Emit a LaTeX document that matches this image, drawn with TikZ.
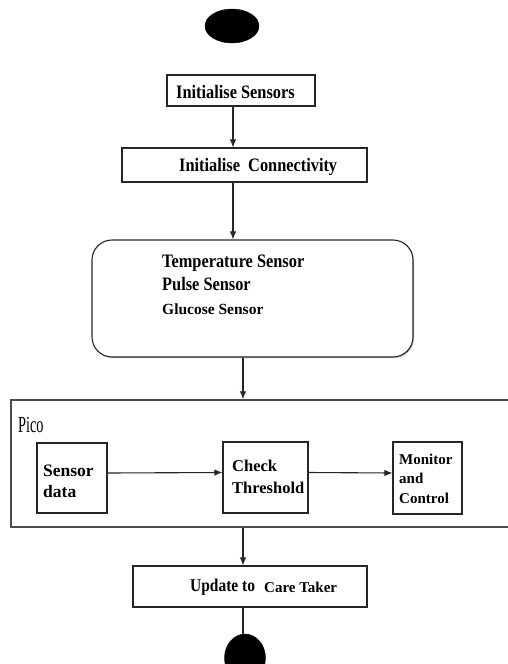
\documentclass[tikz,border=0pt]{standalone}
\usepackage{fontspec}
\setmainfont{Liberation Serif}
\newfontfamily\condfont[FakeStretch=0.86]{Liberation Serif}
\newfontfamily\narrowfont[FakeStretch=0.62]{Liberation Serif}
\usetikzlibrary{arrows.meta,shapes.geometric,shadows}

\tikzset{
  box/.style={draw=black!85, line width=1.1pt, fill=white, rectangle, inner sep=0pt,
              drop shadow={shadow xshift=1pt, shadow yshift=-1pt, opacity=0.45, fill=black!60}},
  roundbox/.style={box, rounded corners=20pt},
  frame/.style={draw=black!70, line width=1.5pt, fill=white, rectangle, inner sep=0pt,
              drop shadow={shadow xshift=1pt, shadow yshift=-1pt, opacity=0.4, fill=black!60}},
  terminal/.style={ellipse, fill=black, draw=black, inner sep=0pt},
  txt/.style={anchor=base west, inner sep=0pt, text=black},
  bigtxt/.style={txt, font=\condfont\bfseries\fontsize{19}{22}\selectfont},
  arr/.style={line width=1.1pt, draw=black!85, -{Latex[length=8pt,width=6.5pt]}},
  link/.style={line width=1.1pt, draw=black!85},
}

\begin{document}
\begin{tikzpicture}[x=1pt,y=-1pt]
  \useasboundingbox (0,0) rectangle (507,664);

  % start / end markers
  \node[terminal, minimum width=54pt, minimum height=34pt] (start) at (232,26) {};
  \node[terminal, minimum width=41pt, minimum height=48pt] (stop) at (245,658) {};

  % setup steps
  \node[box, minimum width=148pt, minimum height=31pt] (sens) at (241,90.5) {};
  \node[bigtxt] (sensT) at (176,98) {Initialise Sensors};

  \node[box, minimum width=245pt, minimum height=34pt] (conn) at (244.5,165) {};
  \node[bigtxt] (connT) at (179,171) {Initialise\ \ Connectivity};

  % sensor group
  \node[roundbox, minimum width=321pt, minimum height=117pt] (group) at (252.5,298.5) {};
  \node[bigtxt] (tempT) at (162,267) {Temperature Sensor};
  \node[bigtxt] (pulseT) at (162,290) {Pulse Sensor};
  \node[txt, font=\bfseries\fontsize{15.5}{18}\selectfont] (gluT) at (162,314) {Glucose Sensor};

  % Pico frame (runs on past the right edge)
  \node[frame, minimum width=530pt, minimum height=127pt] (pico) at (276,463.5) {};
  \node[txt, font=\narrowfont\fontsize{23}{26}\selectfont] (picoT) at (18,432) {Pico};

  \node[box, minimum width=70pt, minimum height=70pt] (sd) at (72,478) {};
  \node[txt, font=\bfseries\fontsize{17.5}{20}\selectfont] (sdA) at (43,476) {Sensor};
  \node[txt, font=\bfseries\fontsize{17.5}{20}\selectfont] (sdB) at (43,497) {data};

  \node[box, minimum width=85pt, minimum height=71pt] (ct) at (265.5,477.5) {};
  \node[txt, font=\bfseries\fontsize{16.5}{20}\selectfont] (ctA) at (232,471) {Check};
  \node[txt, font=\bfseries\fontsize{16.5}{20}\selectfont] (ctB) at (232,493) {Threshold};

  \node[box, minimum width=69pt, minimum height=72pt] (mc) at (427.5,478) {};
  \node[txt, font=\bfseries\fontsize{15}{18}\selectfont] (mcA) at (399,464) {Monitor};
  \node[txt, font=\bfseries\fontsize{15}{18}\selectfont] (mcB) at (399,483) {and};
  \node[txt, font=\bfseries\fontsize{15}{18}\selectfont] (mcC) at (399,503) {Control};

  % final step
  \node[box, minimum width=234pt, minimum height=41pt] (upd) at (250,586.5) {};
  \node[txt, font=\condfont\bfseries\fontsize{18}{21}\selectfont] (updA) at (190,591) {Update to};
  \node[txt, font=\bfseries\fontsize{15}{18}\selectfont] (updB) at (264,592) {Care Taker};

  % connector columns
  \coordinate (colA) at (233,0);
  \coordinate (colB) at (243,0);

  \draw[arr] (sens.south -| colA) -- (conn.north -| colA);
  \draw[arr] (conn.south -| colA) -- (group.north -| colA);
  \draw[arr] (group.south -| colB) -- (pico.north -| colB);
  \draw[arr] ([yshift=5pt]sd.east) -- ([yshift=5pt]ct.west);
  \draw[arr] ([yshift=5pt]ct.east) -- ([yshift=5pt]mc.west);
  \draw[arr] (pico.south -| colB) -- (upd.north -| colB);
  \draw[link] (upd.south -| colB) -- (stop.north -| colB);
\end{tikzpicture}
\end{document}
